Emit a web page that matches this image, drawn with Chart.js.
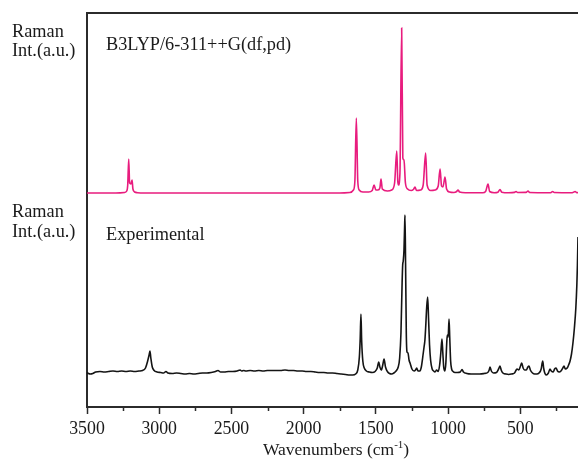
<!DOCTYPE html>
<html>
<head>
<meta charset="utf-8">
<script src="https://cdn.jsdelivr.net/npm/chart.js@4.4.0/dist/chart.umd.min.js"></script>
<style>
  body { margin: 0; background: #fff; }
  canvas { display: block; }
</style>
</head>
<body>
<canvas id="chart" width="578" height="464"></canvas>
<script>
// ===== Raman spectra: calculated vs experimental =====

// x axis ticks (cm-1)
const MAJOR_TICKS = [3500, 3000, 2500, 2000, 1500, 1000, 500];
const MINOR_TICKS = [3250, 2750, 2250, 1750, 1250, 750, 250];

// calculated spectrum B3LYP/6-311++G(df,pd) : wavenumber / intensity (a.u.)
const CALC_WN = [
  3500, 3300, 3240, 3225, 3218, 3211, 3205, 3196, 3188, 3182, 3170, 3150, 3100,
  1750, 1680, 1655, 1645, 1635, 1625, 1615, 1590, 1550, 1525, 1512, 1500,
  1485, 1472, 1464, 1455, 1420, 1390, 1370, 1355, 1348, 1343, 1333, 1321,
  1313, 1305, 1295, 1280, 1255, 1240, 1229, 1218, 1190, 1172, 1155, 1145,
  1120, 1090, 1068, 1055, 1045, 1035, 1021, 1010, 990, 960, 940, 931, 920,
  880, 760, 740, 723, 712, 680, 655, 640, 628, 580, 540, 529, 518, 460, 446,
  435, 300, 285, 275, 265, 140, 120, 110, 100
];
const CALC_INT = [
  0, 0, 0.5, 2, 8, 34, 10, 9, 13, 4, 1, 0.3, 0,
  0, 0.5, 3, 12, 75, 12, 3, 1, 1, 2.5, 8, 3,
  3, 5, 14, 4, 2, 3, 10, 42, 12, 8, 20, 165,
  35, 33, 10, 4, 2.5, 3.5, 6, 2.5, 3, 8, 40, 8,
  2.5, 3, 7, 24, 7, 6, 16, 4, 1, 0.5, 1.5, 3, 1,
  0.3, 0.3, 1.5, 9, 1.5, 0.3, 0.8, 3.5, 0.8, 0.2, 0.6, 1.5, 0.5, 0.6, 2,
  0.5, 0.3, 0.6, 1.5, 0.5, 0.3, 1.5, 0.5, 0.3
];

// experimental spectrum : wavenumber / intensity (a.u.)
const EXP_WN = [
  3500, 3490, 3475, 3460, 3440, 3410, 3380, 3350, 3320, 3290, 3260, 3230, 3200,
  3170, 3140, 3115, 3095, 3080, 3070, 3064, 3058, 3048, 3035, 3015, 2990, 2970,
  2953, 2940, 2910, 2880, 2850, 2820, 2790, 2760, 2730, 2700, 2670, 2640, 2610,
  2593, 2575, 2550, 2520, 2490, 2460, 2440, 2429, 2415, 2400, 2370, 2340, 2310,
  2280, 2250, 2220, 2190, 2160, 2129, 2100, 2070, 2040, 2010, 1980, 1950, 1920,
  1890, 1860, 1830, 1800, 1770, 1740, 1710, 1680, 1660, 1640, 1625, 1614, 1608,
  1603, 1598, 1590, 1580, 1565, 1545, 1525, 1505, 1490, 1480, 1472, 1462, 1452,
  1443, 1433, 1420, 1405, 1390, 1375, 1360, 1345, 1335, 1326, 1318, 1314, 1310,
  1305, 1300, 1298, 1294, 1289, 1284, 1277, 1270, 1263, 1250, 1235, 1225, 1217,
  1208, 1195, 1185, 1175, 1166, 1160, 1155, 1148, 1141, 1135, 1128, 1120, 1110,
  1100, 1090, 1079, 1068, 1058, 1050, 1042, 1036, 1030, 1022, 1015, 1009, 1005,
  999, 993, 988, 982, 975, 965, 952, 935, 915, 903, 893, 870, 840, 810, 780,
  750, 725, 715, 709, 700, 685, 665, 650, 640, 632, 620, 600, 580, 560, 540,
  528, 522, 510, 498, 490, 480, 470, 458, 447, 439, 430, 415, 400, 385, 370,
  355, 348, 344, 338, 330, 320, 305, 294, 285, 272, 262, 252, 242, 230, 218,
  205, 197, 188, 175, 165, 155, 145, 135, 125, 115, 108, 104, 100
];
const EXP_INT = [
  0.5, -0.5, -1, -0.5, 1, 1.5, 1, 1.5, 2, 1.5, 2, 1.5, 2,
  1.5, 2, 2.5, 5, 12, 18, 22, 15, 6, 2.5, 1, 0.5, 0,
  1.5, 0, -0.5, 0, -0.5, -1, -0.5, -1, -0.5, 0, 0, 0.5, 1.5,
  2.5, 1, 1, 1.5, 1.5, 2, 3, 2, 2.5, 2, 2.5, 2, 2.5,
  2, 2.5, 2.5, 2.5, 2.5, 3, 2.5, 2.5, 2, 2, 1.5, 1.5, 1,
  0.5, 0.5, 0, 0, -0.5, -1, -1.5, -2, -2, -1, 3, 16, 35,
  59, 32, 12, 5, 2, 1, 0.5, 1.5, 5, 11, 6, 3, 8,
  14, 6, 1.5, -0.5, -1, 0, 2, 6, 15, 40, 90, 108, 112,
  123, 150, 158, 110, 40, 21, 20, 13, 10, 4, 2, 3, 5,
  2, 2, 6, 16, 26, 33, 45, 65, 76, 55, 28, 12, 4,
  2, 1, 3, 1.5, 8, 20, 34, 20, 6, 2, 10, 30, 38,
  36, 54, 35, 12, 4, 1.5, 0.5, 0.5, 1, 3.5, 1, -0.5, -1, -1, -1,
  -0.5, 0.5, 3, 6, 2, 0, 0.5, 4, 7, 3, 0, -1, -1.5, -1, 0,
  3, 4, 3, 7, 10, 5, 3, 3, 6, 7, 3, 0, -1, -1, 0,
  4, 10, 12, 5, 0, -2, 0, 4, 2, 1, 4, 5, 2, 1, 2,
  5, 7, 4, 5, 8, 12, 19, 30, 45, 65, 88, 108, 136
];

// vertical stacking of the two traces
const CALC_OFFSET = 214;
const EXP_OFFSET = 34;

const SERIF = '"Liberation Serif", "Times New Roman", serif';

const toPoints = (wn, val, offset) => wn.map((w, i) => ({ x: w, y: val[i] + offset }));

// texts, minor ticks and axis title
const annotatePlugin = {
  id: 'annotate',
  afterDraw(chart) {
    const { ctx, chartArea } = chart;
    const xScale = chart.scales.x;
    ctx.save();

    ctx.strokeStyle = '#2b2b2b';
    ctx.lineWidth = 1.5;
    MINOR_TICKS.forEach(v => {
      const px = Math.round(xScale.getPixelForValue(v)) + 0.5;
      ctx.beginPath();
      ctx.moveTo(px, chartArea.bottom);
      ctx.lineTo(px, chartArea.bottom + 4);
      ctx.stroke();
    });

    ctx.fillStyle = '#1a1a1a';
    ctx.font = '18.3px ' + SERIF;
    ctx.textBaseline = 'alphabetic';
    ctx.textAlign = 'left';
    ctx.fillText('Raman', 12, 37);
    ctx.fillText('Int.(a.u.)', 12, 56);
    ctx.fillText('Raman', 12, 217);
    ctx.fillText('Int.(a.u.)', 12, 237);
    ctx.fillText('B3LYP/6-311++G(df,pd)', 106, 50);
    ctx.fillText('Experimental', 106, 240);

    // x axis title with superscript
    const base = 'Wavenumbers (cm';
    const sup = '-1';
    const tail = ')';
    ctx.font = '17.5px ' + SERIF;
    const wBase = ctx.measureText(base).width;
    const wTail = ctx.measureText(tail).width;
    ctx.font = '11px ' + SERIF;
    const wSup = ctx.measureText(sup).width;
    let tx = 336 - (wBase + wSup + wTail) / 2;
    ctx.font = '17.5px ' + SERIF;
    ctx.fillText(base, tx, 455);
    tx += wBase;
    ctx.font = '11px ' + SERIF;
    ctx.fillText(sup, tx, 448);
    tx += wSup;
    ctx.font = '17.5px ' + SERIF;
    ctx.fillText(tail, tx, 455);

    ctx.restore();
  }
};

const ctx = document.getElementById('chart').getContext('2d');

const chart = new Chart(ctx, {
  type: 'line',
  data: {
    datasets: [
      {
        label: 'B3LYP/6-311++G(df,pd)',
        data: toPoints(CALC_WN, CALC_INT, CALC_OFFSET),
        borderColor: '#E81C7E',
        borderWidth: 1.6,
        pointRadius: 0,
        cubicInterpolationMode: 'monotone',
        fill: false
      },
      {
        label: 'Experimental',
        data: toPoints(EXP_WN, EXP_INT, EXP_OFFSET),
        borderColor: '#141414',
        borderWidth: 1.6,
        pointRadius: 0,
        cubicInterpolationMode: 'monotone',
        fill: false
      }
    ]
  },
  options: {
    responsive: false,
    devicePixelRatio: 1,
    animation: false,
    layout: { padding: 0 },
    plugins: {
      legend: { display: false },
      tooltip: { enabled: false }
    },
    scales: {
      x: {
        type: 'linear',
        position: 'bottom',
        reverse: true,
        min: 100,
        max: 3500,
        afterBuildTicks: s => { s.ticks = MAJOR_TICKS.map(v => ({ value: v })); },
        afterFit: s => { s.height = 57; },
        grid: {
          drawOnChartArea: false,
          drawTicks: true,
          tickLength: 7,
          tickWidth: 1.5,
          tickColor: '#2b2b2b'
        },
        border: { display: true, color: '#2b2b2b', width: 2 },
        ticks: {
          autoSkip: false,
          maxRotation: 0,
          padding: 5,
          color: '#1a1a1a',
          font: { family: SERIF, size: 17.8 },
          callback: v => String(v)
        }
      },
      xTop: {
        type: 'linear',
        position: 'top',
        reverse: true,
        min: 100,
        max: 3500,
        afterFit: s => { s.height = 13; },
        grid: { drawOnChartArea: false, drawTicks: false },
        border: { display: true, color: '#2b2b2b', width: 2 },
        ticks: { display: false }
      },
      y: {
        type: 'linear',
        position: 'left',
        min: 0,
        max: 394,
        afterFit: s => { s.width = 87; },
        grid: { drawOnChartArea: false, drawTicks: false },
        border: { display: true, color: '#2b2b2b', width: 2 },
        ticks: { display: false }
      }
    }
  },
  plugins: [annotatePlugin]
});
</script>
</body>
</html>
